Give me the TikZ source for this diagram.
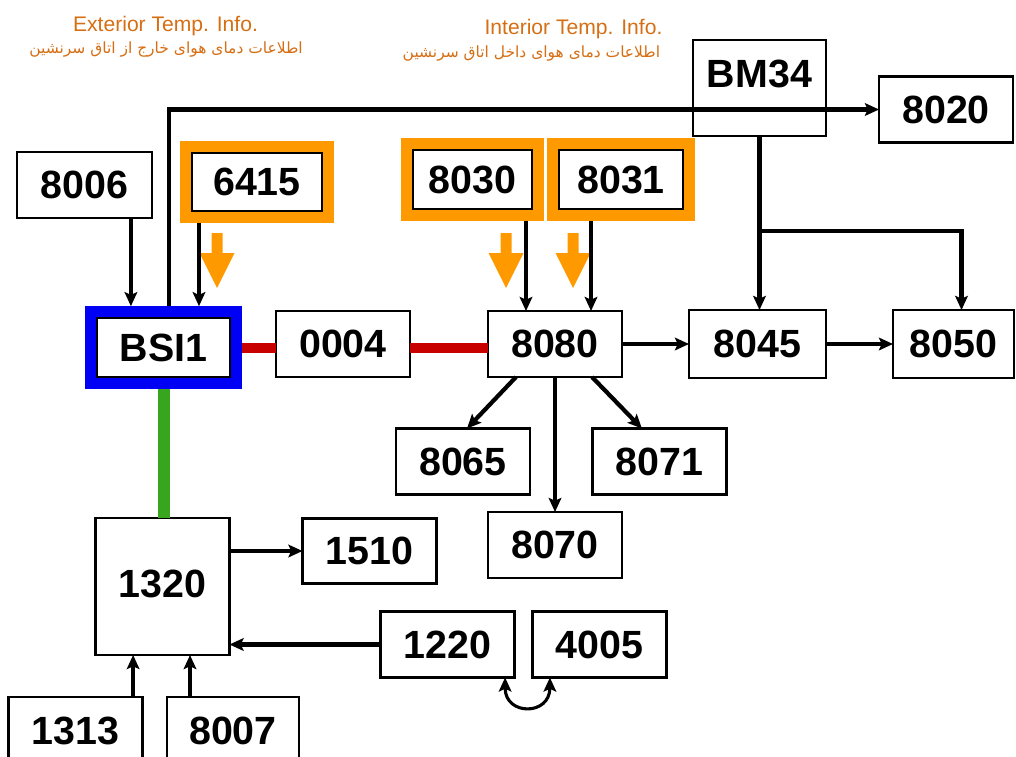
\documentclass[tikz,border=0pt]{standalone}
\usepackage{fontspec}
\setmainfont{Liberation Sans}
\newfontfamily\farsi[Script=Arabic]{DejaVu Sans}
\TeXXeTstate=1
\usetikzlibrary{arrows.meta,fit}
\definecolor{warm}{RGB}{255,153,0}
\definecolor{infotext}{RGB}{214,110,20}
\definecolor{busred}{RGB}{200,0,0}
\definecolor{busgreen}{RGB}{56,165,30}
\definecolor{bsiblue}{RGB}{0,0,245}

\begin{document}
\begin{tikzpicture}[x=0.025cm,y=-0.025cm,>={Stealth[length=10pt,width=9pt,inset=2pt]},
        unit/.style={draw, line width=1.5pt, inner sep=0pt, outer sep=0pt, minimum width=3.35cm, minimum height=1.65cm, font=\bfseries\fontsize{28}{30}\selectfont},
        hotframe/.style={draw=warm, line width=0.28cm, inner sep=0.155cm, outer sep=0.14cm},
        link/.style={->, line width=3pt},
        redbus/.style={draw=busred, line width=0.25cm},
        greenbus/.style={draw=busgreen, line width=0.3cm},
        info/.style={text=infotext, font=\fontsize{15}{17}\selectfont}]
        \useasboundingbox (0,0) rectangle (1016,756);

        \node (ext) [info, anchor=base] at (165.5,31) {Exterior Temp. Info.};
        \node (extfa) [info, font=\farsi\fontsize{11}{13}\selectfont] at (166,50) {\beginR اطلاعات دمای هوای خارج از اتاق سرنشین\endR};
        \node (int) [info, anchor=base] at (573.5,34) {Interior Temp. Info.};
        \node (intfa) [info, anchor=east, font=\farsi\fontsize{11}{13}\selectfont] at (665,54) {\beginR اطلاعات دمای هوای داخل اتاق سرنشین\endR};

        \node (u8006) [unit, minimum width=3.375cm] at (84.5,185) {8006};
        \node (u6415) [unit, minimum width=3.25cm, minimum height=1.45cm] at (257,182) {6415};
        \node (f6415) [hotframe, fit=(u6415)] {};
        \node (bsi) [unit, minimum width=3.325cm, minimum height=1.475cm] at (163.5,347.5) {BSI1};
        \node (fbsi) [hotframe, draw=bsiblue, fit=(bsi)] {};
        \node (u0004) [unit] at (343,344) {0004};
        \node (u8080) [unit] at (555,344) {8080};
        \node (u8045) [unit, minimum width=3.425cm, minimum height=1.7cm] at (757.5,344) {8045};
        \node (u8050) [unit, minimum width=3.025cm, minimum height=1.7cm] at (953.5,344) {8050};
        \node (u8030) [unit, minimum width=3cm, minimum height=1.475cm] at (472.5,179.5) {8030};
        \node (f8030) [hotframe, fit=(u8030)] {};
        \node (u8031) [unit, minimum width=3.125cm, minimum height=1.475cm] at (621,179.5) {8031};
        \node (f8031) [hotframe, fit=(u8031)] {};
        \node (bm34) [unit, minimum width=3.325cm, text height=1.175cm, text depth=1.225cm] at (759.5,88) {BM34};
        \node (u8020) [unit] at (946,109.5) {8020};
        \node (u8065) [unit] at (463,461.5) {8065};
        \node (u8071) [unit] at (659.5,461.5) {8071};
        \node (u8070) [unit] at (555,545) {8070};
        \node (u1320) [unit, text height=1.975cm, text depth=1.45cm] at (162.5,586.5) {1320};
        \node (u1510) [unit, minimum height=1.625cm] at (369.5,551) {1510};
        \node (u1220) [unit] at (447.5,644.5) {1220};
        \node (u4005) [unit] at (599.5,644.5) {4005};
        \node (u1313) [unit, minimum height=1.7cm] at (75.5,731) {1313};
        \node (u8007) [unit, minimum width=3.3cm, minimum height=1.7cm] at (233,731) {8007};
        \coordinate (split) at (759.5,231);

        \foreach \x in {217,506,573}
            \fill[warm] (\x-5.5,233) -- (\x+5.5,233) -- (\x+5.5,253) -- (\x+17.5,253) -- (\x,288) -- (\x-17.5,253) -- (\x-5.5,253) -- cycle;

        \draw[link] ([xshift=1.16cm]u8006.south) -- ([xshift=1.16cm]u8006.south |- fbsi.north);
        \draw[link] ([xshift=-1.45cm]f6415.south) -- ([xshift=-1.45cm]f6415.south |- fbsi.north);
        \draw[link] ([xshift=0.14cm]fbsi.north) |- (u8020.west);
        \draw[redbus] (fbsi.east) -- (fbsi.east -| u0004.west);
        \draw[redbus] (u0004.east |- fbsi.east) -- (fbsi.east -| u8080.west);
        \draw[greenbus] (fbsi.south) -- (fbsi.south |- u1320.north);
        \draw[link] ([xshift=-0.725cm]u8080.north |- f8030.south) -- ([xshift=-0.725cm]u8080.north);
        \draw[link] ([xshift=0.9cm]u8080.north |- f8031.south) -- ([xshift=0.9cm]u8080.north);
        \draw[link] (bm34.south) -- (bm34.south |- u8045.north);
        \draw[link] (split) -| ([xshift=0.2cm]u8050.north);
        \draw[link] (u8080.east) -- (u8045.west);
        \draw[link] (u8045.east) -- (u8050.west);
        \draw[link] ([xshift=-0.975cm]u8080.south) -- ([xshift=0.1cm]u8065.north);
        \draw[link] ([xshift=0.925cm]u8080.south) -- ([xshift=-0.44cm]u8071.north);
        \draw[link] (u8080.south) -- (u8070.north);
        \draw[link] (u1320.east |- u1510.west) -- (u1510.west);
        \draw[link] (u1220.west) -- (u1220.west -| u1320.east);
        \draw[link] ([xshift=1.44cm]u1313.north) -- ([xshift=1.44cm]u1313.north |- u1320.south);
        \draw[link] ([xshift=-1.075cm]u8007.north) -- ([xshift=-1.075cm]u8007.north |- u1320.south);
        \draw[<->, line width=2.2pt] ([xshift=1.44cm]u1220.south) to[out=-90, in=-90, looseness=2.2] ([xshift=-1.24cm]u4005.south);
    \end{tikzpicture}
\end{document}
